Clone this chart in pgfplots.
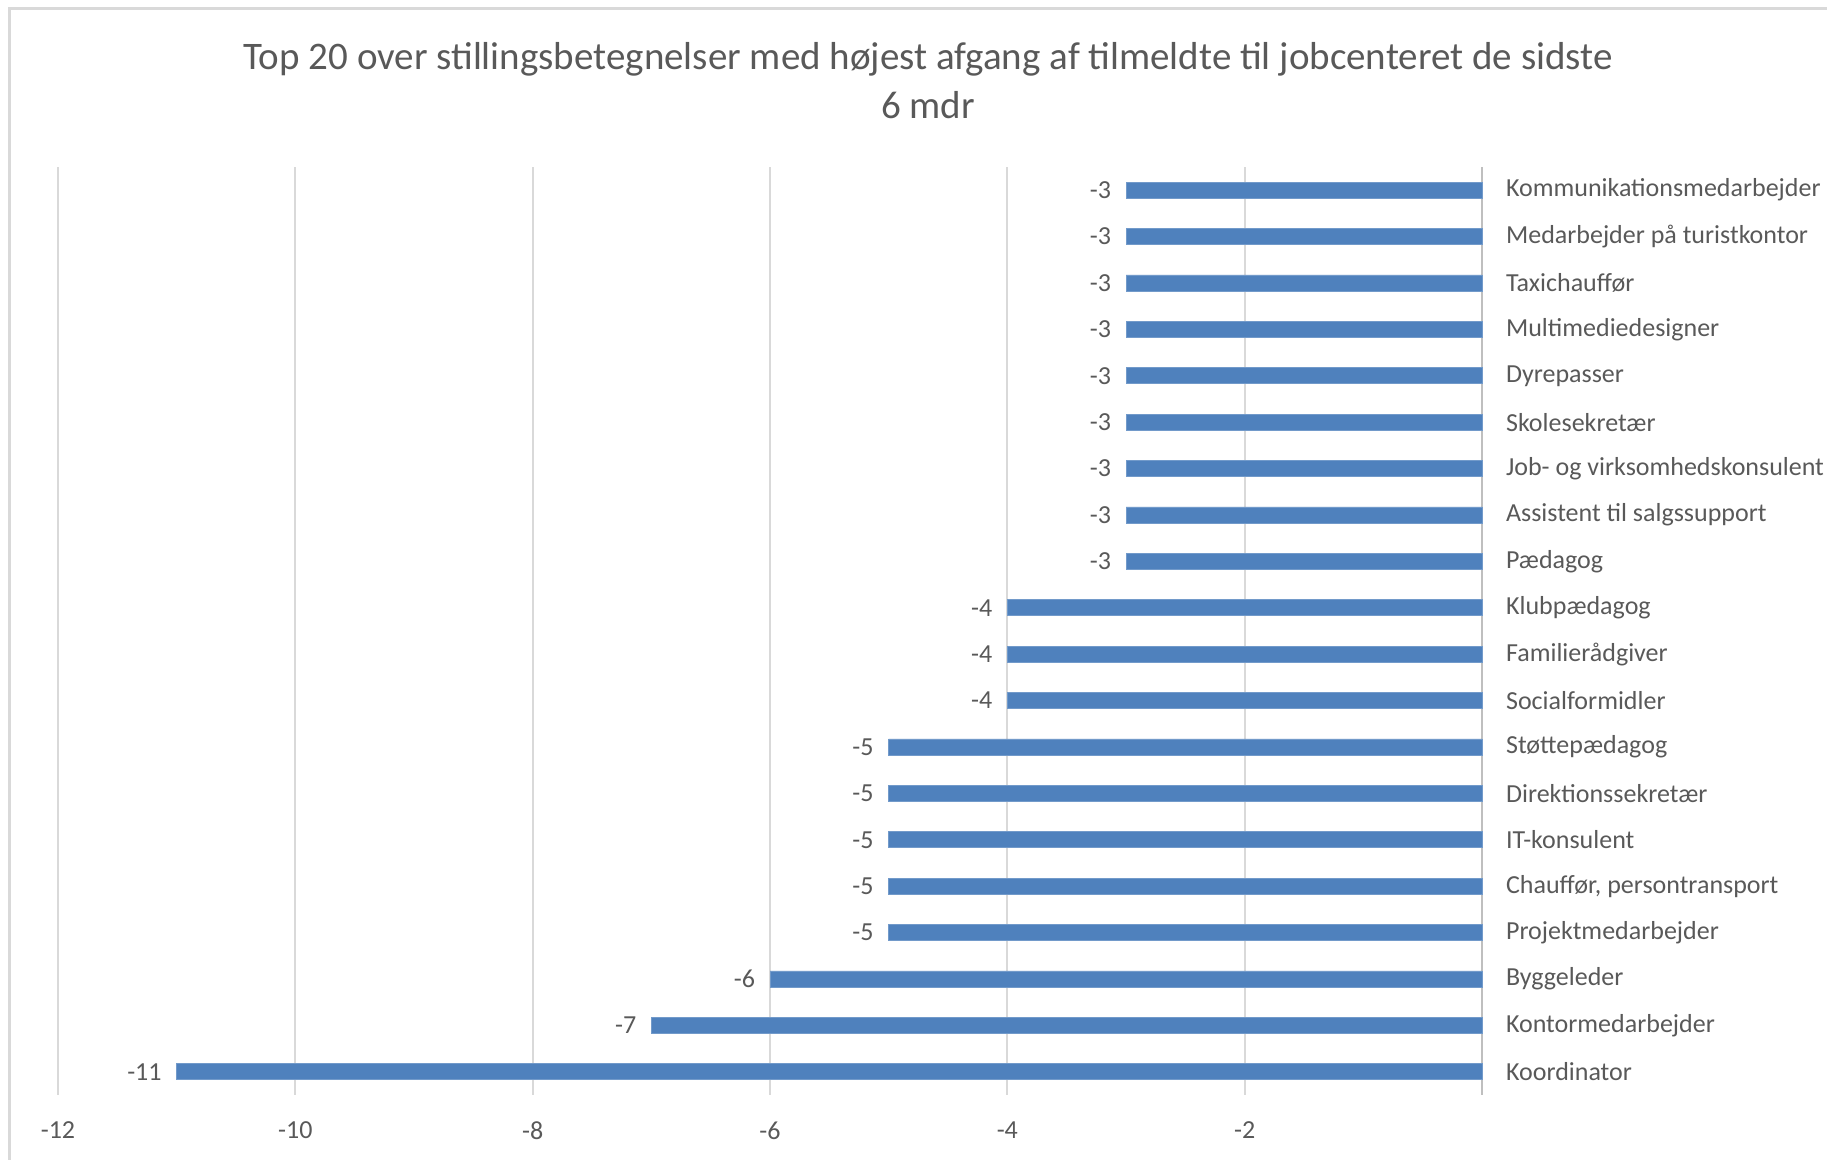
\documentclass[border=0pt]{standalone}
\usepackage{pgfplots}
\pgfplotsset{compat=1.18}
\usepackage{fontspec}
\setmainfont{Carlito}
\definecolor{txt}{HTML}{595959}
\definecolor{barblue}{HTML}{4F81BD}
\definecolor{gridc}{HTML}{D9D9D9}
\definecolor{zeroc}{HTML}{BFBFBF}
\pgfplotstableread[col sep=comma]{
y,x
19,-3
18,-3
17,-3
16,-3
15,-3
14,-3
13,-3
12,-3
11,-3
10,-4
9,-4
8,-4
7,-5
6,-5
5,-5
4,-5
3,-5
2,-6
1,-7
0,-11
}\datatable
\begin{document}
\begin{tikzpicture}
\useasboundingbox (0,0) rectangle (913.5pt,580pt);
\draw[gridc, line width=1.5pt] (4.75pt,0pt) -- (4.75pt,575.5pt) -- (913.5pt,575.5pt);
\node[txt, font=\fontsize{19.5}{24.5}\selectfont, align=center] at (464pt,539.5pt) {Top 20 over stillingsbetegnelser med højest afgang af tilmeldte til jobcenteret de sidste\\6 mdr};
\begin{axis}[
  at={(29pt,32.5pt)}, anchor=south west,
  scale only axis, width=712pt, height=464pt,
  xmin=-12, xmax=0, ymin=-0.5, ymax=19.5,
  xbar, bar width=0.345,
  axis line style={draw=none},
  xtick={-12,-10,-8,-6,-4,-2},
  xticklabels={{-12},{-10},{-8},{-6},{-4},{-2}},
  extra x ticks={0}, extra x tick labels={},
  extra x tick style={grid style={zeroc, line width=1pt}},
  xmajorgrids, grid style={gridc, line width=1pt},
  major tick length=0pt,
  ytick={0,...,19},
  yticklabels={Koordinator,Kontormedarbejder,Byggeleder,Projektmedarbejder,{Chauffør, persontransport},IT-konsulent,Direktionssekretær,Støttepædagog,Socialformidler,Familierådgiver,Klubpædagog,Pædagog,Assistent til salgssupport,Job- og virksomhedskonsulent,Skolesekretær,Dyrepasser,Multimediedesigner,Taxichauffør,Medarbejder på turistkontor,Kommunikationsmedarbejder},
  yticklabel pos=right,
  yticklabel style={anchor=west, xshift=8.5pt, font=\fontsize{13}{15}\selectfont, text=txt},
  xticklabel style={font=\fontsize{13}{15}\selectfont, text=txt, yshift=-10pt},
  nodes near coords={\pgfmathprintnumber[assume math mode=true]{\pgfplotspointmeta}},
  point meta=x,
  nodes near coords style={font=\fontsize{13}{15}\selectfont, text=txt, anchor=east, xshift=-4pt},
  clip=false,
]
\addplot[fill=barblue, draw=barblue!80!white] table[x=x, y=y] {\datatable};
\end{axis}
\end{tikzpicture}
\end{document}
